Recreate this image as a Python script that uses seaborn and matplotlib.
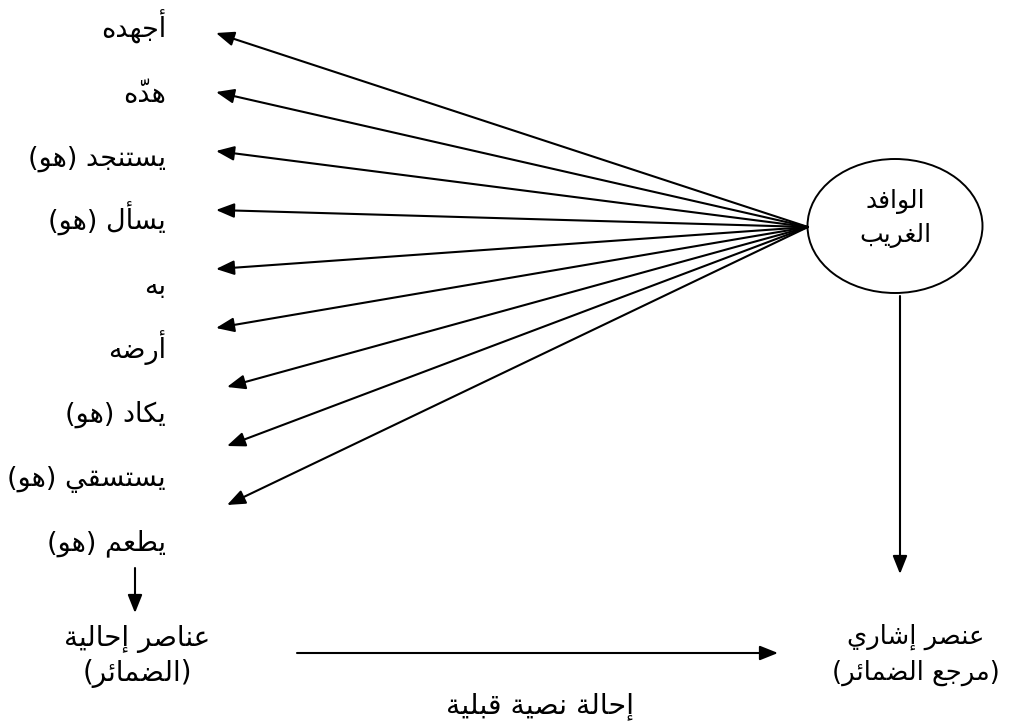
import matplotlib
matplotlib.use("Agg")
import matplotlib.pyplot as plt
from matplotlib.patches import Ellipse
from matplotlib.font_manager import FontProperties
from matplotlib.textpath import TextToPath
import seaborn as sns

# --- diagram content ---
pronouns = ["أجهده", "هدّه", "يستنجد (هو)", "يسأل (هو)", "به",
            "أرضه", "يكاد (هو)", "يستسقي (هو)", "يطعم (هو)"]
referent = ["الوافد", "الغريب"]
left_box = ["عناصر إحالية", "(الضمائر)"]
right_box = ["عنصر إشاري", "(مرجع الضمائر)"]
bottom_label = "إحالة نصية قبلية"

# --- minimal arabic shaping (matplotlib draws glyphs left to right, unjoined) ---
DUAL = {'ب': 0xFE8F, 'ت': 0xFE95, 'ث': 0xFE99, 'ج': 0xFE9D, 'ح': 0xFEA1, 'خ': 0xFEA5,
        'س': 0xFEB1, 'ش': 0xFEB5, 'ص': 0xFEB9, 'ض': 0xFEBD, 'ط': 0xFEC1, 'ظ': 0xFEC5,
        'ع': 0xFEC9, 'غ': 0xFECD, 'ف': 0xFED1, 'ق': 0xFED5, 'ك': 0xFED9, 'ل': 0xFEDD,
        'م': 0xFEE1, 'ن': 0xFEE5, 'ه': 0xFEE9, 'ي': 0xFEF1, 'ئ': 0xFE89}
RIGHT = {'ا': 0xFE8D, 'أ': 0xFE83, 'إ': 0xFE87, 'آ': 0xFE81, 'ة': 0xFE93, 'د': 0xFEA9,
         'ذ': 0xFEAB, 'ر': 0xFEAD, 'ز': 0xFEAF, 'و': 0xFEED, 'ؤ': 0xFE85, 'ى': 0xFEEF}
LAM_ALEF = {'ا': 0xFEFB, 'أ': 0xFEF7, 'إ': 0xFEF9, 'آ': 0xFEF5}
# combining harakat -> spacing (isolated) forms, drawn separately over their letter
MARKS = {'\u064B': '\uFE70', '\u064C': '\uFE72', '\u064D': '\uFE74', '\u064E': '\uFE76',
         '\u064F': '\uFE78', '\u0650': '\uFE7A', '\u0651': '\uFE7C', '\u0652': '\uFE7E'}
MIRROR = {'(': ')', ')': '('}


def shape(text):
    """Return visual (left to right) list of [glyph, marks]."""
    clusters = []
    for ch in text:
        if ch in MARKS and clusters:
            clusters[-1][1] += MARKS[ch]
        else:
            clusters.append([ch, ''])
    merged = []
    i = 0
    while i < len(clusters):
        b, m = clusters[i]
        if b == 'ل' and i + 1 < len(clusters) and clusters[i + 1][0] in LAM_ALEF:
            merged.append(['LA' + clusters[i + 1][0], m + clusters[i + 1][1]])
            i += 2
        else:
            merged.append([b, m])
            i += 1

    def joins_next(b):
        return b in DUAL

    def joins_prev(b):
        return b in DUAL or b in RIGHT or b.startswith('LA')

    out = []
    for i, (b, m) in enumerate(merged):
        prev = merged[i - 1][0] if i > 0 else None
        nxt = merged[i + 1][0] if i + 1 < len(merged) else None
        p = prev is not None and joins_next(prev) and joins_prev(b)
        n = nxt is not None and joins_next(b) and joins_prev(nxt)
        if b.startswith('LA'):
            g = chr(LAM_ALEF[b[2]] + (1 if p else 0))
        elif b in DUAL:
            g = chr(DUAL[b] + (3 if p and n else 2 if n else 1 if p else 0))
        elif b in RIGHT:
            g = chr(RIGHT[b] + (1 if p else 0))
        else:
            g = MIRROR.get(b, b)
        out.append([g, m])
    return out[::-1]


sns.set_theme(style="white")
plt.rcParams['font.family'] = ['DejaVu Sans']
plt.rcParams['text.color'] = 'black'

DPI = 100
ttp = TextToPath()


def text_width(s, size):
    w, _, _ = ttp.get_text_width_height_descent(s, FontProperties(family='DejaVu Sans', size=size), ismath=False)
    return w * DPI / 72.0


def arabic(ax, x, y, word, size, ha='center'):
    """Draw shaped arabic text; y is the visual centre, marks placed over their letter."""
    vis = shape(word)
    base = ''.join(g for g, _ in vis)
    baseline = y + 0.3 * size * DPI / 72.0
    ax.text(x, baseline, base, ha=ha, va='baseline', fontsize=size)
    total = text_width(base, size)
    right = x + (total / 2 if ha == 'center' else 0 if ha == 'right' else total)
    for k, (g, m) in enumerate(vis):
        if not m:
            continue
        tail = text_width(''.join(gg for gg, _ in vis[k:]), size)
        cx = right - tail + text_width(g, size) / 2
        ax.text(cx, baseline, m, ha='center', va='baseline', fontsize=size)


fig = plt.figure(figsize=(10.11, 7.24), dpi=DPI)
ax = fig.add_axes([0, 0, 1, 1])
ax.set_xlim(0, 1011)
ax.set_ylim(724, 0)
ax.axis('off')

fs = 19.5
arrow_kw = dict(arrowstyle='-|>,head_length=1.0,head_width=0.4', color='black',
                lw=1.5, mutation_scale=11, shrinkA=0, shrinkB=0)

# fan of arrows from the referent to each pronoun
hub = (808, 227)
for i, word in enumerate(pronouns):
    arabic(ax, 166, 30 + i * 64, word, fs, ha='right')
    tip = (216 if i < 6 else 227, 33 + i * 59)
    ax.annotate('', xy=tip, xytext=hub, arrowprops=arrow_kw)

# referent ellipse
ax.add_patch(Ellipse((895, 226), 175, 134, fill=False, lw=1.4, color='black'))
arabic(ax, 895, 200, referent[0], 18)
arabic(ax, 895, 234, referent[1], 18)

# vertical arrows
ax.annotate('', xy=(900, 574), xytext=(900, 296), arrowprops=arrow_kw)
ax.annotate('', xy=(135, 613), xytext=(135, 568), arrowprops=arrow_kw)

# boxes' labels
arabic(ax, 137, 638, left_box[0], 20)
arabic(ax, 137, 673, left_box[1], 20)
arabic(ax, 916, 636, right_box[0], 18.5)
arabic(ax, 916, 672, right_box[1], 18.5)

# horizontal arrow and its caption
ax.annotate('', xy=(778, 653), xytext=(297, 653), arrowprops=arrow_kw)
arabic(ax, 540, 705, bottom_label, 20.5)

fig.savefig('out.png', dpi=DPI)
